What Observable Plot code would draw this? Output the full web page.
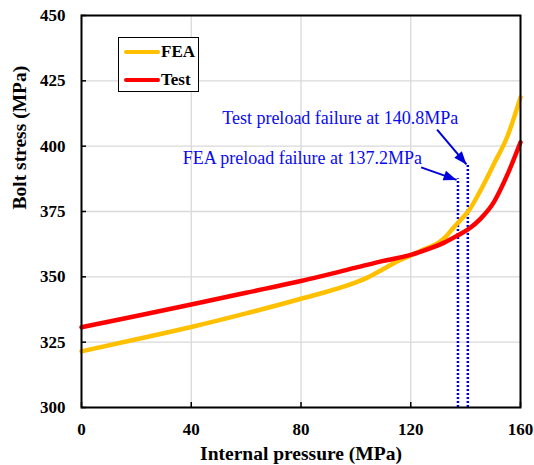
<!DOCTYPE html>
<html>
<head>
<meta charset="utf-8">
<script src="https://cdn.jsdelivr.net/npm/d3@7"></script>
<script src="https://cdn.jsdelivr.net/npm/@observablehq/plot@0.6"></script>
<style>
  html, body { margin: 0; padding: 0; background: #fff; }
  #wrap { position: relative; width: 534px; height: 465px; }
  #wrap svg text { font-family: "Liberation Serif", "Times New Roman", serif !important; }
  #legend {
    position: absolute; left: 118px; top: 37px; width: 81px; height: 55px;
    border: 1px solid #000; background: #fff; box-sizing: border-box;
    font-family: "Liberation Serif", "Times New Roman", serif; font-weight: bold; font-size: 17px;
  }
  .row { position: absolute; left: 5px; display: flex; align-items: center; height: 20px; }
  .sw { width: 36px; height: 4.5px; border-radius: 2px; margin-right: 1px; }
</style>
</head>
<body>
<div id="wrap"></div>
<script>
// ---- data ----
const seriesNames = ["FEA", "Test"];
const seriesColors = ["#ffc000", "#ff0000"];

const feaPressure = [0, 20, 40, 60, 80, 100, 104, 110, 115, 120, 125, 130, 133, 135.1, 138, 141.2, 145.4, 150.3, 155.1, 160];
const feaStress   = [321.5, 326.1, 330.8, 336.0, 341.6, 347.9, 349.6, 353.0, 355.9, 358.2, 360.6, 363.0, 365.6, 368.2, 371.6, 375.4, 383.0, 393.2, 403.4, 418.7];

const testPressure = [0, 20, 40, 60, 80, 100, 110, 120, 126, 132, 137, 141.2, 145.4, 150.3, 155.1, 160];
const testStress   = [330.7, 335.0, 339.4, 343.9, 348.4, 353.5, 356.1, 358.4, 360.5, 363.0, 365.8, 368.4, 372.2, 378.6, 388.8, 401.5];

const failurePressure = [137.2, 140.8];
const failureTop = [387.5, 392.6];
const failureLabels = ["FEA preload failure at 137.2MPa", "Test preload failure at 140.8MPa"];
const labelX = [80.5, 94.3];
const labelY = [395.5, 410.8];
const arrowX1 = [123.8, 129.6];
const arrowY1 = [391.9, 406.3];
const arrowX2 = [136.7, 140.3];
const arrowY2 = [387.1, 393.0];

const xTicks = [0, 40, 80, 120, 160];
const yTicks = [300, 325, 350, 375, 400, 425, 450];
const xTitle = "Internal pressure (MPa)";
const yTitle = "Bolt stress (MPa)";

// ---- build tables ----
const lines = [
  ...feaPressure.map((p, i) => ({series: "FEA", p, s: feaStress[i]})),
  ...testPressure.map((p, i) => ({series: "Test", p, s: testStress[i]}))
];
const failures = failurePressure.map((p, i) => ({p, top: failureTop[i]}));
const labels = failureLabels.map((t, i) => ({t, x: labelX[i], y: labelY[i]}));

const W = 534, H = 465, mL = 81, mR = 14, mT = 15, mB = 58;
const xDomain = [0, 160], yDomain = [300, 450];
const sx = Plot.scale({x: {domain: xDomain, range: [mL, W - mR]}});
const sy = Plot.scale({y: {domain: yDomain, range: [H - mB, mT]}});
const arrows = arrowX1.map((x1, i) => {
  const dx = sx.apply(arrowX2[i]) - sx.apply(x1);
  const dy = sy.apply(arrowY2[i]) - sy.apply(arrowY1[i]);
  return {x1, y1: arrowY1[i], x2: arrowX2[i], y2: arrowY2[i], angle: Math.atan2(dx, -dy) * 180 / Math.PI};
});
const head = {draw(ctx) { ctx.moveTo(0, 0); ctx.lineTo(-5, 13); ctx.lineTo(5, 13); ctx.closePath(); }};

const blue = "#0000dd";
const font = '"Liberation Serif", "Times New Roman", serif';

const chart = Plot.plot({
  width: W, height: H,
  marginLeft: mL, marginRight: mR, marginTop: mT, marginBottom: mB,
  style: {background: "#fff", fontFamily: font, color: "#000", overflow: "visible"},
  x: {domain: xDomain},
  y: {domain: yDomain},
  color: {domain: seriesNames, range: seriesColors},
  marks: [
    Plot.gridX(xTicks, {stroke: "#d9d9d9", strokeOpacity: 1, strokeWidth: 1.3}),
    Plot.gridY(yTicks, {stroke: "#d9d9d9", strokeOpacity: 1, strokeWidth: 1.3}),
    Plot.ruleX(failures, {x: "p", y1: 300, y2: "top", stroke: blue, strokeWidth: 2.5, strokeDasharray: "2,2"}),
    Plot.line(lines, {x: "p", y: "s", z: "series", stroke: "series", strokeWidth: 4.5, curve: "monotone-x"}),
    Plot.frame({stroke: "#000", strokeWidth: 2}),
    Plot.axisX(xTicks, {tickSize: -5, text: null, label: null, strokeWidth: 1.5}),
    Plot.axisY(yTicks, {tickSize: -5, text: null, label: null, strokeWidth: 1.5}),
    Plot.axisX(xTicks, {tickSize: 0, tickPadding: 15, label: null, fontSize: 17, fontWeight: "bold", fontFamily: font}),
    Plot.axisY(yTicks, {tickSize: 0, tickPadding: 16, label: null, fontSize: 17, fontWeight: "bold", fontFamily: font}),
    Plot.text([xTitle], {frameAnchor: "bottom", dy: 46, lineAnchor: "middle", fontSize: 19.5, fontWeight: "bold", fontFamily: font}),
    Plot.text([yTitle], {frameAnchor: "left", dx: -62, dy: -2, rotate: -90, lineAnchor: "middle", fontSize: 19.5, fontWeight: "bold", fontFamily: font}),
    Plot.text(labels, {x: "x", y: "y", text: "t", fill: "#0a0af0", fontSize: 18, fontFamily: font, lineAnchor: "middle"}),
    Plot.link(arrows, {x1: "x1", y1: "y1", x2: "x2", y2: "y2", stroke: blue, strokeWidth: 2}),
    Plot.dot(arrows, {x: "x2", y: "y2", symbol: head, rotate: "angle", fill: blue, stroke: null, r: 5})
  ]
});

const wrap = document.getElementById("wrap");
wrap.appendChild(chart);

const legend = document.createElement("div");
legend.id = "legend";
seriesNames.forEach((name, i) => {
  const row = document.createElement("div");
  row.className = "row";
  row.style.top = (i === 0 ? 4 : 32) + "px";
  const sw = document.createElement("span");
  sw.className = "sw";
  sw.style.background = seriesColors[i];
  const t = document.createElement("span");
  t.textContent = name;
  row.appendChild(sw); row.appendChild(t);
  legend.appendChild(row);
});
wrap.appendChild(legend);
</script>
</body>
</html>
